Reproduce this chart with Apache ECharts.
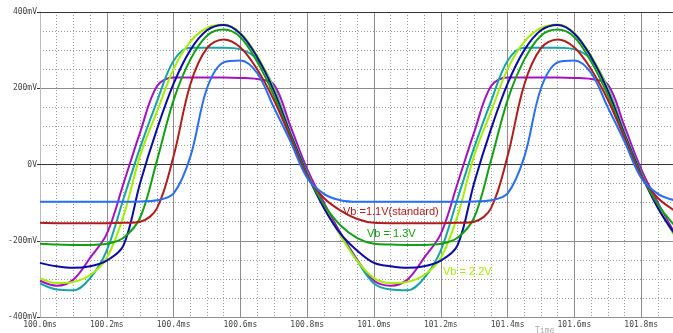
<!DOCTYPE html>
<html>
<head>
<meta charset="utf-8">
<script src="https://cdn.jsdelivr.net/npm/echarts@6/dist/echarts.min.js"></script>
<style>
  html, body { margin: 0; padding: 0; background: #fff; }
  #chart { width: 673px; height: 333px; }
</style>
</head>
<body>
<div id="chart"></div>
<script>
// time in ms, sampled every 0.05 ms
const time = [
  100.00, 100.05, 100.10, 100.15, 100.20, 100.25, 100.30, 100.35, 100.40, 100.45,
  100.50, 100.55, 100.60, 100.65, 100.70, 100.75, 100.80, 100.85, 100.90, 100.95,
  101.00, 101.05, 101.10, 101.15, 101.20, 101.25, 101.30, 101.35, 101.40, 101.45,
  101.50, 101.55, 101.60, 101.65, 101.70, 101.75, 101.80, 101.85, 101.90
];

// voltages in mV
const vBlue = [
  -98, -98, -98, -98, -98, -98, -97, -94, -76, 20,
  200, 268, 273, 240, 150, 60, -35, -77, -94, -98,
  -98, -98, -98, -98, -98, -98, -97, -94, -76, 20,
  200, 268, 273, 240, 150, 60, -35, -77, -94
];
const vRed = [
  -153, -154, -154, -154, -154, -153, -150, -115, 22, 210,
  305, 328, 307, 250, 170, 70, -30, -88, -121, -143,
  -153, -154, -154, -154, -154, -153, -150, -115, 22, 210,
  305, 328, 307, 250, 170, 70, -30, -88, -121
];
const vGreen = [
  -208, -210, -211, -211, -208, -192, -139, 10, 169, 275,
  338, 354, 334, 270, 182, 75, -28, -105, -160, -193,
  -208, -210, -211, -211, -208, -192, -139, 10, 169, 275,
  338, 354, 334, 270, 182, 75, -28, -105, -160
];
const vNavy = [
  -258, -267, -271, -267, -252, -212, -48, 92, 212, 300,
  352, 366, 343, 282, 194, 80, -26, -114, -182, -226,
  -258, -267, -271, -267, -252, -212, -48, 92, 212, 300,
  352, 366, 343, 282, 194, 80, -26, -114, -182
];
const vLime = [
  -298, -311, -308, -290, -245, -135, 24, 138, 250, 322,
  358, 367, 345, 285, 198, 80, -25, -110, -187, -253,
  -298, -311, -308, -290, -245, -135, 24, 138, 250, 322,
  358, 367, 345, 285, 198, 80, -25, -110, -187
];
const vTeal = [
  -312, -328, -330, -298, -225, -90, 45, 165, 272, 306,
  306, 306, 302, 276, 202, 82, -22, -112, -185, -253,
  -312, -328, -330, -298, -225, -90, 45, 165, 272, 306,
  306, 306, 302, 276, 202, 82, -22, -112, -185
];
const vMagenta = [
  -305, -318, -302, -245, -182, -50, 85, 205, 228, 228,
  228, 228, 227, 224, 210, 100, -12, -100, -180, -250,
  -305, -318, -302, -245, -182, -50, 85, 205, 228, 228,
  228, 228, 227, 224, 210, 100, -12, -100, -180
];

const traces = [
  { name: "magenta", color: "#a412c0", values: vMagenta },
  { name: "teal", color: "#16a3a8", values: vTeal },
  { name: "lime", color: "#a6ee00", values: vLime },
  { name: "navy", color: "#0b0ba3", values: vNavy },
  { name: "green", color: "#12a012", values: vGreen },
  { name: "red", color: "#b01c1c", values: vRed },
  { name: "blue", color: "#2a6ef5", values: vBlue },
];

const tickFont = { fontFamily: "DejaVu Sans Mono", fontSize: 8, color: "#444" };
const labelFont = "11px 'Liberation Sans', Arial, sans-serif";

const chart = echarts.init(document.getElementById("chart"), null, { renderer: "canvas" });

chart.setOption({
  animation: false,
  backgroundColor: "#fff",
  // plot runs past the right edge of the picture, like the cropped scope shot
  grid: { left: 40, top: 12, width: 668, height: 305, outerBoundsMode: "none", containLabel: false },
  xAxis: [
    {
      type: "value",
      min: 100,
      max: 102,
      interval: 0.2,
      axisLine: { show: true, lineStyle: { color: "#333", width: 1 } },
      axisTick: { show: false },
      axisLabel: Object.assign({
        margin: 4,
        formatter: (v) => v.toFixed(1) + "ms",
      }, tickFont),
      splitLine: { show: true, lineStyle: { color: "#8c8c8c", width: 1 } },
      minorTick: { show: false, splitNumber: 4 },
      minorSplitLine: { show: true, lineStyle: { color: "#999", width: 1, type: [1, 2] } },
    },
    {
      // top border
      type: "value",
      position: "top",
      min: 100,
      max: 102,
      axisLine: { show: true, lineStyle: { color: "#333", width: 1 } },
      axisTick: { show: false },
      axisLabel: { show: false },
      splitLine: { show: false },
    },
  ],
  yAxis: {
    type: "value",
    min: -400,
    max: 400,
    interval: 200,
    axisLine: { show: true, lineStyle: { color: "#bbb", width: 1 } },
    axisTick: { show: true, length: 3, lineStyle: { color: "#333" } },
    axisLabel: Object.assign({
      margin: 3,
      formatter: (v) => (v === 0 ? "0V" : v + "mV"),
    }, tickFont),
    splitLine: { show: true, lineStyle: { color: "#8c8c8c", width: 1 } },
    minorTick: { show: false, splitNumber: 4 },
    minorSplitLine: { show: true, lineStyle: { color: "#999", width: 1, type: [1, 2] } },
  },
  series: traces.map((t) => ({
    name: t.name,
    type: "line",
    xAxisIndex: 0,
    data: time.map((x, i) => [x, t.values[i]]),
    showSymbol: false,
    smooth: 0.35,
    lineStyle: { color: t.color, width: 2 },
    itemStyle: { color: t.color },
  })),
  graphic: [
    {
      type: "text", left: 343, top: 206, z: 100,
      style: { text: "Vb =1.1V(standard)", fill: "#b01c1c", font: labelFont },
    },
    {
      type: "text", left: 367, top: 228, z: 100,
      style: { text: "Vb = 1.3V", fill: "#12a012", font: labelFont },
    },
    {
      type: "text", left: 443, top: 266, z: 100,
      style: { text: "Vb = 2.2V", fill: "#a6ee00", font: labelFont },
    },
    {
      type: "text", left: 535, top: 327, z: 100,
      style: { text: "Time", fill: "#aaa", font: "8px 'DejaVu Sans Mono', monospace" },
    },
  ],
});
</script>
</body>
</html>
